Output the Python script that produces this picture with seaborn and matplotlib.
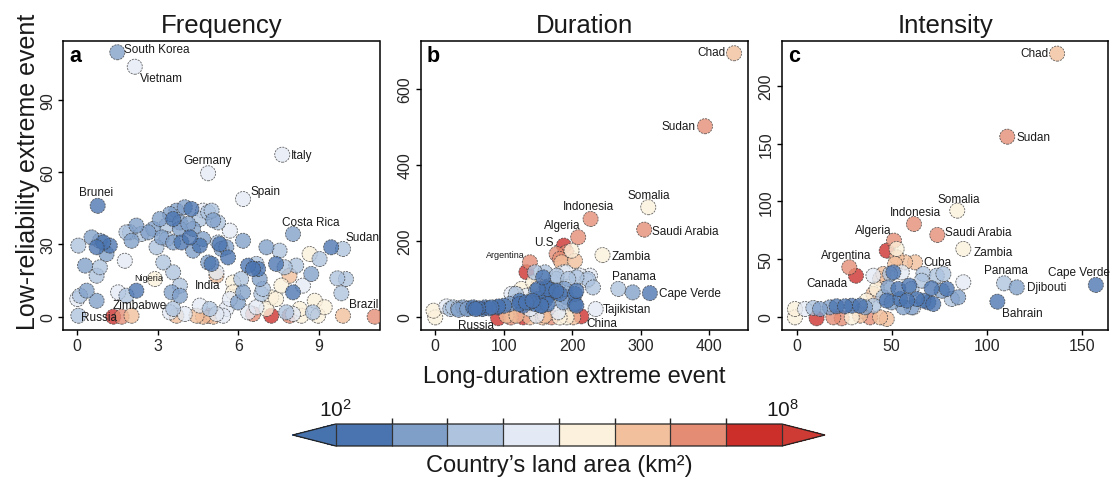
import numpy as np
import pandas as pd
import matplotlib
matplotlib.use("Agg")
import matplotlib.pyplot as plt
from matplotlib.colors import ListedColormap, BoundaryNorm
from matplotlib.cm import ScalarMappable
import seaborn as sns

# ---------------------------------------------------------------------------
# Data: x = long-duration extreme events, y = low-reliability extreme events,
# log_area = log10 of the country's land area (km^2).
# The first entries of each panel are the named countries.
# ---------------------------------------------------------------------------
AREA_EDGES = [2.0, 2.75, 3.5, 4.25, 5.0, 5.75, 6.5, 7.25, 8.0]
AREA_COLORS = ["#4a74b0", "#7f9fc9", "#adc3de", "#e3eaf5",
               "#fcf1dc", "#f2c09c", "#e58c74", "#cc2e2a"]

# (a) Frequency
freq_names = ["South Korea", "Vietnam", "Germany", "Italy", "Spain", "Brunei",
              "Costa Rica", "Sudan", "Nigeria", "India", "Zimbabwe", "Russia",
              "Brazil"]
freq_x = [1.49, 2.14, 4.87, 7.63, 6.17, 0.76, 8.03, 9.89, 2.89, 5.18, 2.02, 1.34, 11.07,
          0.04, 0.29, 0.53, 0.72, 0.84, 0.97, 1.21, 1.09, 0.84, 0.72,
          0.10, 0.35, 0.72, 0.04, 0.00, 1.77, 1.52, 1.83, 2.20, 1.65,
          1.83, 2.02, 2.20, 2.39, 1.96, 2.64, 2.83, 2.95, 3.14, 3.07,
          3.32, 3.45, 3.57, 3.69, 3.82, 3.82, 3.88, 3.57, 3.32, 3.20,
          3.57, 4.00, 4.25, 4.19, 4.31, 4.56, 4.68, 4.87, 5.00, 5.06,
          5.24, 4.56, 4.31, 4.13, 4.68, 4.87, 5.00, 5.30, 5.37, 5.68,
          5.61, 5.55, 5.24, 6.17, 5.18, 3.51, 3.82, 3.82, 3.57, 3.45,
          3.69, 4.00, 4.44, 4.68, 4.87, 5.06, 4.56, 4.93, 5.18, 5.43,
          5.55, 5.68, 5.80, 5.80, 5.98, 6.10, 6.17, 6.36, 6.54, 6.67,
          6.73, 6.79, 6.91, 6.85, 6.67, 6.54, 6.36, 7.04, 7.22, 7.22,
          7.40, 7.04, 7.53, 7.40, 7.72, 7.60, 7.90, 8.03, 7.78, 7.90,
          8.03, 8.15, 8.28, 8.34, 8.40, 8.71, 8.65, 8.84, 8.77, 8.96,
          9.02, 9.21, 9.89, 9.45, 9.68, 10.00, 9.83]
freq_y = [109.7, 103.7, 59.5, 67.2, 48.8, 46.0, 34.3, 28.1, 15.6, 17.0, 0.4, 0.0, 0.0,
          29.5, 21.2, 32.9, 28.8, 31.5, 30.8, 29.5, 26.0, 20.5, 17.0,
          8.7, 10.8, 6.6, 0.4, 7.3, 23.2, 10.1, 8.7, 10.8, 0.0,
          35.0, 31.5, 37.8, 34.3, 35.0, 35.0, 36.4, 28.8, 32.9, 40.5,
          37.8, 42.6, 40.5, 44.0, 36.4, 39.1, 30.8, 30.8, 32.2, 22.5,
          18.4, 45.4, 44.7, 32.9, 36.4, 40.5, 44.0, 43.3, 44.0, 40.0,
          39.1, 29.5, 27.4, 38.5, 32.2, 22.5, 21.9, 30.1, 28.1, 35.7,
          24.6, 28.8, 30.8, 31.5, 18.4, 10.1, 8.7, 12.9, 3.2, 1.8,
          0.4, 1.1, 0.4, 0.0, 0.4, 0.0, 4.6, 3.2, 1.1, 0.4,
          3.2, 7.3, 10.1, 14.2, 5.9, 15.6, 10.1, 21.2, 19.8, 21.9,
          19.8, 15.6, 11.5, 9.4, 3.9, 1.1, 1.8, 3.2, 0.4, 8.0,
          7.3, 28.8, 27.4, 21.9, 20.5, 12.9, 17.0, 10.1, 1.8, 0.4,
          1.1, 21.2, 3.2, 0.4, 12.9, 17.7, 26.0, 6.6, 1.8, 0.4,
          23.9, 3.9, 0.4, 28.8, 15.9, 15.6, 9.7]
freq_log_area = [3.1, 4.6, 4.6, 4.6, 4.6, 2.4, 3.1, 3.9, 5.4, 6.1, 6.1, 7.6, 6.9,
                 3.9, 3.1, 3.1, 2.4, 3.1, 2.4, 2.4, 3.1, 3.9, 3.9,
                 3.9, 3.1, 3.1, 3.9, 4.6, 4.6, 4.6, 3.9, 2.4, 6.9,
                 3.9, 3.1, 3.1, 3.9, 3.9, 3.1, 3.1, 3.9, 3.1, 3.1,
                 3.9, 3.1, 2.4, 3.1, 3.1, 3.1, 2.4, 3.1, 3.9, 3.9,
                 3.9, 3.1, 2.4, 2.4, 3.1, 3.9, 4.6, 3.9, 3.9, 3.1,
                 3.9, 2.4, 3.1, 3.1, 3.1, 3.1, 2.4, 2.4, 3.1, 4.6,
                 2.4, 3.1, 3.9, 3.1, 4.6, 3.1, 3.1, 3.9, 3.9, 4.6,
                 6.1, 4.6, 6.1, 6.1, 6.9, 6.1, 4.6, 3.9, 4.6, 4.6,
                 4.6, 4.6, 5.4, 5.4, 3.1, 3.9, 3.1, 2.4, 2.4, 3.9,
                 2.4, 3.1, 3.9, 3.9, 4.6, 6.9, 4.6, 5.4, 7.6, 5.4,
                 5.4, 3.1, 3.9, 2.4, 3.9, 5.4, 6.1, 2.4, 3.9, 6.9,
                 4.6, 3.9, 5.4, 5.4, 4.6, 3.1, 5.4, 5.4, 3.9, 5.4,
                 3.9, 5.4, 6.1, 2.4, 3.9, 3.9, 3.9]

# (b) Duration
dur_names = ["Chad", "Sudan", "Somalia", "Indonesia", "Saudi Arabia", "Algeria",
             "U.S.", "Zambia", "Argentina", "Panama", "Cape Verde", "Tajikistan",
             "China", "Russia"]
dur_x = [435.8, 393.4, 310.7, 226.6, 304.8, 208.5, 187.6, 244.0, 138.0, 267.0, 313.0, 234.0, 213.0, 91.7,
         288.0, 133.0, 181.8, 198.8, 191.5, 177.0, 203.7, 184.2, 125.8, 118.5,
         133.0, 111.2, 142.8, 150.0, 172.0, 138.0, 147.7, 104.0, 118.5, 128.2,
         138.0, 159.9, 169.6, 179.3, 191.5, 201.2, 110.0, 157.0, 181.4, 0.0,
         -2.5, 16.3, 22.0, 26.0, 33.4, 34.0, 40.7, 46.6, 48.0, 55.3,
         58.8, 62.6, 68.6, 72.3, 78.4, 82.0, 90.7, 91.8, 100.5, 108.8,
         116.0, 123.4, 128.2, 138.0, 145.3, 150.0, 155.0, 159.9, 164.7, 162.3,
         169.6, 177.0, 181.8, 191.5, 203.7, 203.7, 186.6, 157.4, 159.9, 145.3,
         177.0, 186.6, 194.0, 206.0, 220.7, 225.6, 149.5, 164.0, 176.5, 188.7,
         205.9, 205.9, 154.4, 164.0, 132.4, 122.5, 142.0, 147.0, 117.6, 230.0,
         223.0, 210.8, 191.0, 176.5]
dur_y = [693.0, 501.0, 288.0, 257.0, 229.0, 209.0, 187.0, 162.0, 143.0, 73.0, 62.0, 20.0, 1.0, -4.0,
         64.0, 117.0, 151.8, 173.7, 169.0, 165.0, 147.0, 143.0, 73.0, 60.0,
         55.0, 60.0, 90.0, 82.0, 90.0, 20.0, 2.7, 2.7, 2.7, -1.7,
         -1.7, 2.7, -1.7, 11.5, -1.7, -1.7, -2.0, -2.0, -2.0, -1.8,
         15.8, 27.0, 20.0, 24.6, 22.0, 18.0, 24.6, 20.0, 22.0, 24.6,
         20.0, 22.0, 20.0, 24.6, 22.0, 24.6, 24.6, 27.0, 29.0, 33.4,
         37.8, 42.0, 29.0, 37.8, 33.4, 46.5, 29.0, 42.0, 55.3, 77.0,
         68.4, 64.0, 60.0, 51.0, 60.0, 33.4, 37.8, 103.5, 116.7, 116.7,
         108.0, 116.7, 99.0, 103.5, 95.0, 108.0, 73.0, 73.0, 68.0, 73.0,
         68.0, 29.0, 29.0, 33.0, 37.7, 33.0, 42.0, 68.0, 60.0, 77.0,
         99.0, 108.0, 116.7, 99.0]
dur_log_area = [6.1, 6.9, 5.4, 6.9, 6.9, 6.9, 7.6, 5.4, 6.9, 3.9, 2.4, 4.6, 7.6, 7.6,
                3.1, 7.6, 6.9, 5.4, 6.9, 6.9, 6.1, 6.1, 5.4, 5.4,
                4.6, 4.6, 5.4, 6.1, 4.6, 4.6, 4.6, 6.1, 6.1, 7.6,
                6.1, 6.1, 6.9, 4.6, 5.4, 6.1, 6.9, 6.1, 5.4, 5.4,
                5.4, 4.6, 3.9, 3.9, 3.9, 3.1, 3.1, 3.1, 3.1, 2.4,
                2.4, 2.4, 2.4, 2.4, 2.4, 2.4, 2.4, 2.4, 2.4, 3.1,
                3.9, 2.4, 2.4, 2.4, 2.4, 2.4, 2.4, 2.4, 2.4, 2.4,
                2.4, 3.1, 2.4, 3.1, 2.4, 2.4, 3.1, 2.4, 3.9, 3.9,
                3.9, 4.6, 3.9, 3.9, 4.6, 4.6, 2.4, 2.4, 2.4, 3.1,
                2.4, 2.4, 2.4, 2.4, 2.4, 2.4, 2.4, 3.1, 3.9, 3.9,
                3.9, 4.6, 4.6, 3.9]

# (c) Intensity
int_names = ["Chad", "Sudan", "Somalia", "Indonesia", "Saudi Arabia", "Zambia",
             "Algeria", "Argentina", "Canada", "Cuba", "Panama", "Djibouti",
             "Bahrain", "Cape Verde"]
int_x = [137.0, 110.8, 84.5, 61.7, 74.0, 87.7, 51.2, 27.7, 31.2, 62.3, 109.1, 115.8, 105.6, 157.4,
         47.4, 52.6, -0.9, -0.9, 4.4, 8.8, 12.3, 17.5, 21.0, 25.4,
         29.0, 33.3, 36.0, 40.4, 10.5, 19.3, 23.7, 29.0, 33.3, 38.6,
         43.9, 47.4, 34.2, 36.8, 40.4, 42.1, 43.9, 40.4, 45.6, 49.1,
         50.9, 55.3, 48.2, 45.6, 47.4, 50.0, 53.5, 59.3, 54.4, 58.1,
         56.1, 61.4, 63.2, 66.7, 69.3, 71.9, 71.0, 73.7, 77.2, 79.0,
         76.3, 81.6, 85.0, 87.7, 65.8, 66.7, 60.5, 60.5, 51.8, 57.0,
         52.6]
int_y = [228.0, 156.0, 91.9, 80.3, 70.8, 58.7, 65.9, 42.8, 35.5, 47.1, 28.9, 25.4, 13.0, 27.5,
         57.2, 58.7, 6.6, -0.6, 6.6, 7.5, 6.6, 8.1, 9.0, 9.0,
         9.5, 9.5, 8.1, 9.5, -1.4, -0.6, -1.4, -0.6, 0.9, -0.6,
         -0.6, -2.0, 5.2, 13.9, 19.7, 24.0, 32.7, 35.5, 37.0, 37.0,
         38.4, 38.4, 25.4, 16.8, 13.9, 12.4, 24.0, 26.9, 15.3, 13.9,
         8.1, 8.1, 15.3, 13.9, 12.4, 11.0, 24.6, 35.5, 37.0, 24.0,
         22.5, 15.3, 16.8, 29.8, 31.2, 37.0, 24.0, 8.1, 45.7, 47.1,
         51.4]
int_log_area = [6.1, 6.9, 5.4, 6.9, 6.9, 5.4, 6.9, 6.9, 7.6, 6.1, 3.9, 3.1, 2.4, 2.4,
                7.6, 5.4, 5.4, 5.4, 4.6, 3.9, 3.1, 3.1, 2.4, 2.4,
                2.4, 2.4, 3.1, 3.9, 7.6, 6.9, 6.9, 5.4, 6.1, 6.9,
                6.1, 6.1, 6.1, 5.4, 6.1, 5.4, 6.1, 4.6, 6.1, 3.9,
                2.4, 4.6, 3.1, 3.9, 2.4, 3.1, 2.4, 2.4, 2.4, 2.4,
                3.1, 4.6, 2.4, 2.4, 2.4, 2.4, 2.4, 3.9, 3.9, 2.4,
                3.1, 3.9, 3.1, 4.6, 3.9, 3.9, 3.9, 3.1, 6.1, 6.1,
                6.1]

# ---------------------------------------------------------------------------
# Styling
# ---------------------------------------------------------------------------
sns.set_theme(style="white")
plt.rcParams["font.family"] = ["Liberation Sans", "DejaVu Sans"]
plt.rcParams["mathtext.fontset"] = "custom"
plt.rcParams["mathtext.rm"] = "Liberation Sans"
plt.rcParams["mathtext.it"] = "Liberation Sans:italic"

W, H = 1113, 481
fig = plt.figure(figsize=(W / 100, H / 100), dpi=100)
fig.patch.set_facecolor("white")

cmap = ListedColormap(AREA_COLORS).with_extremes(under="#4672ad", over="#cd3b34")
norm = BoundaryNorm(AREA_EDGES, cmap.N)
palette = {i: AREA_COLORS[i] for i in range(len(AREA_COLORS))}


def px_axes(left, right, top, bottom):
    return fig.add_axes([left / W, (H - bottom) / H, (right - left) / W, (bottom - top) / H])


def draw_panel(ax, xs, ys, areas, names, label_style, title, letter,
               xlim, ylim, xticks, yticks):
    df = pd.DataFrame({"x": xs, "y": ys, "log_area": areas})
    df["bin"] = np.clip(np.digitize(df["log_area"], AREA_EDGES) - 1, 0, len(AREA_COLORS) - 1)
    order = df.sort_values("log_area", ascending=False)
    sns.scatterplot(data=order, x="x", y="y", hue="bin", palette=palette,
                    s=118, alpha=0.78, edgecolor="#3c3c3c", linewidth=0.6,
                    linestyle=(0, (2.5, 1.2)), legend=False, ax=ax, zorder=3)
    for i, name in enumerate(names):
        dx, dy, ha, fs = label_style[name]
        ax.annotate(name, xy=(xs[i], ys[i]), xytext=(dx, dy), textcoords="offset pixels",
                    ha=ha, va="center", fontsize=fs, color="#1a1a1a", zorder=5,
                    annotation_clip=False)
    ax.set_xlim(*xlim)
    ax.set_ylim(*ylim)
    ax.set_xticks(xticks)
    ax.set_yticks(yticks)
    ax.set_xlabel("")
    ax.set_ylabel("")
    ax.set_title(title, fontsize=18.5, pad=6, color="#1a1a1a")
    for sp in ax.spines.values():
        sp.set_visible(True)
        sp.set_color("black")
        sp.set_linewidth(1.1)
    ax.tick_params(axis="both", direction="out", length=3.5, width=1.0, color="black",
                   labelsize=11.5, labelcolor="#262626", bottom=True, left=True, pad=2.5)
    ax.tick_params(axis="y", labelrotation=90)
    for lab in ax.get_yticklabels():
        lab.set_va("center")
    ax.text(0.018, 0.93, letter, transform=ax.transAxes, fontsize=15.5,
            fontweight="bold", color="black", va="baseline", ha="left")


LBL = 8.5
freq_style = {
    "South Korea": (7, 3, "left", LBL), "Vietnam": (5, -11, "left", LBL),
    "Germany": (0, 13, "center", LBL), "Italy": (9, 0, "left", LBL),
    "Spain": (7, 8, "left", LBL), "Brunei": (-2, 14, "center", LBL),
    "Costa Rica": (18, 12, "center", LBL), "Sudan": (3, 12, "left", LBL),
    "Nigeria": (-6, 2, "center", 6.5), "India": (-9, -9, "center", LBL),
    "Zimbabwe": (8, 11, "center", LBL), "Russia": (-14, 0, "center", LBL),
    "Brazil": (-11, 13, "center", LBL),
}
dur_style = {
    "Chad": (-9, 1, "right", LBL), "Sudan": (-9, 0, "right", LBL),
    "Somalia": (0, 12, "center", LBL), "Indonesia": (-2, 13, "center", LBL),
    "Saudi Arabia": (8, -1, "left", LBL), "Algeria": (-16, 12, "center", LBL),
    "U.S.": (-18, 4, "center", LBL), "Zambia": (9, -1, "left", LBL),
    "Argentina": (-24, 8, "center", 6.5), "Panama": (16, 13, "center", LBL),
    "Cape Verde": (9, 0, "left", LBL), "Tajikistan": (7, 0, "left", LBL),
    "China": (5, -7, "left", LBL), "Russia": (-22, -7, "center", LBL),
}
int_style = {
    "Chad": (-9, 1, "right", LBL), "Sudan": (9, 0, "left", LBL),
    "Somalia": (1, 12, "center", LBL), "Indonesia": (2, 12, "center", LBL),
    "Saudi Arabia": (8, 3, "left", LBL), "Zambia": (10, -3, "left", LBL),
    "Algeria": (-21, 11, "center", LBL), "Argentina": (-3, 12, "center", LBL),
    "Canada": (-29, -7, "center", LBL), "Cuba": (8, 0, "left", LBL),
    "Panama": (2, 13, "center", LBL), "Djibouti": (10, 0, "left", LBL),
    "Bahrain": (25, -11, "center", LBL), "Cape Verde": (-17, 13, "center", LBL),
}

ax_a = px_axes(63.3, 379.5, 41.7, 330.7)
ax_b = px_axes(420.7, 748.3, 41.7, 330.7)
ax_c = px_axes(782.0, 1108.0, 41.7, 330.7)

draw_panel(ax_a, freq_x, freq_y, freq_log_area, freq_names, freq_style,
           "Frequency", "a", (-0.52, 11.25), (-5.4, 114.5), [0, 3, 6, 9], [0, 30, 60, 90])
draw_panel(ax_b, dur_x, dur_y, dur_log_area, dur_names, dur_style,
           "Duration", "b", (-21.2, 456.6), (-34.2, 726), [0, 100, 200, 300, 400], [0, 200, 400, 600])
draw_panel(ax_c, int_x, int_y, int_log_area, int_names, int_style,
           "Intensity", "c", (-7.7, 163.8), (-11.3, 239.2), [0, 50, 100, 150], [0, 50, 100, 150, 200])

fig.text(0.025, 0.642, "Low-reliability extreme event", rotation=90,
         ha="center", va="center", fontsize=18, color="#1a1a1a")
fig.text(574 / W, (H - 377) / H, "Long-duration extreme event",
         ha="center", va="center", fontsize=17, color="#1a1a1a")

# Colorbar for land area
cax = px_axes(292.7, 825.0, 425.0, 447.0)
sm = ScalarMappable(norm=norm, cmap=cmap)
cbar = fig.colorbar(sm, cax=cax, orientation="horizontal", extend="both",
                    extendfrac=43 / 446, drawedges=True)
cbar.outline.set_edgecolor("#222222")
cbar.outline.set_linewidth(0.9)
cbar.dividers.set_color("#333333")
cbar.dividers.set_linewidth(0.9)
cbar.set_ticks([2, 8])
cbar.set_ticklabels([r"$\mathregular{10^2}$", r"$\mathregular{10^8}$"])
cax.xaxis.set_ticks_position("top")
cax.tick_params(axis="x", length=0, labelsize=15, pad=3, labelcolor="#1a1a1a")
fig.text(559 / W, (H - 466) / H, "Country\u2019s land area (km\u00b2)",
         ha="center", va="center", fontsize=17, color="#1a1a1a")

fig.savefig("out.png", dpi=100, facecolor="white")
